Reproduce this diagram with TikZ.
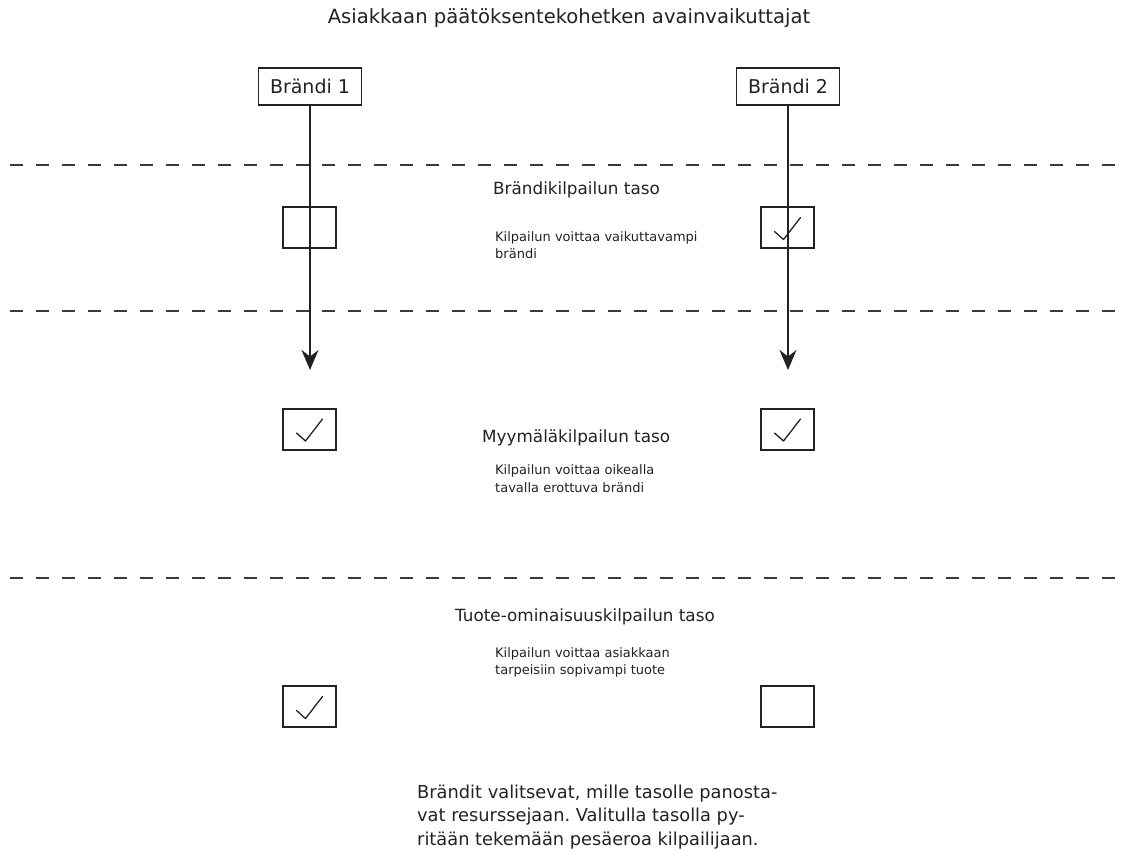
\documentclass[tikz,border=0pt]{standalone}
\usepackage{fontspec}
\setmainfont{DejaVu Sans}
\usetikzlibrary{arrows.meta}
\frenchspacing
\definecolor{ink}{HTML}{222222}
\definecolor{dashc}{HTML}{3A3A3A}
\tikzset{
  brandbox/.style={draw=ink, line width=1.2pt, minimum width=103pt, minimum height=37pt, inner sep=0pt, text=ink, font=\fontsize{19}{22}\selectfont},
  chkbox/.style={draw=ink, line width=2pt, minimum width=53pt, minimum height=41pt, inner sep=0pt},
  chk/.style={draw=ink, line width=1.3pt, line join=round, line cap=round},
  flow/.style={draw=ink, line width=1.8pt, -{Stealth[length=20pt, width=17pt]}},
  level/.style={draw=dashc, line width=2pt, dash pattern=on 13pt off 13pt},
  title/.style={text=ink, inner sep=0pt, font=\fontsize{19.6}{23}\selectfont},
  head/.style={text=ink, inner sep=0pt, anchor=west, font=\fontsize{16.8}{20}\selectfont},
  sub/.style={text=ink, inner sep=0pt, anchor=west, align=left},
  note/.style={text=ink, inner sep=0pt, anchor=west, align=left, font=\fontsize{17.8}{23.5}\selectfont}
}
\begin{document}
\begin{tikzpicture}[x=1pt, y=-1pt]
\useasboundingbox (0,0) rectangle (1131,849);
\node[title] (t) at (569,18) {Asiakkaan päätöksentekohetken avainvaikuttajat};
\node[brandbox] (b1) at (310,86.5) {Brändi 1};
\node[brandbox] (b2) at (788,86.5) {Brändi 2};
% level lines
\coordinate (l1a) at (10,165); \coordinate (l1b) at (1121,165);
\coordinate (l2a) at (10,311); \coordinate (l2b) at (1121,311);
\coordinate (l3a) at (10,578); \coordinate (l3b) at (1121,578);
\draw[level, line width=1.4pt] (l1a) -- (l1b);
\draw[level] (l2a) -- (l2b);
\draw[level] (l3a) -- (l3b);
% check boxes
\node[chkbox] (c11) at (309.5,227.5) {};
\node[chkbox] (c12) at (787.5,227.5) {};
\node[chkbox] (c21) at (309.5,429) {};
\node[chkbox] (c22) at (787.5,429) {};
\node[chkbox] (c31) at (309.5,706.5) {};
\node[chkbox] (c32) at (787.5,706.5) {};
% arrows
\coordinate (a1) at (310,370);
\coordinate (a2) at (788,370);
\draw[flow] (b1.south) -- (a1);
\draw[flow] (b2.south) -- (a2);
% check marks
\foreach \c in {c12,c21,c22,c31}{
  \draw[chk] ([shift={(-13,4)}]\c.center) -- ([shift={(-4,12)}]\c.center) -- ([shift={(13,-10)}]\c.center);
}
% texts
\node[head] (h1) at (493,190) {Brändikilpailun taso};
\node[sub, font=\fontsize{13}{16.5}\selectfont] (s1) at (495,245) {Kilpailun voittaa vaikuttavampi\\brändi};
\node[head] (h2) at (482,438) {Myymäläkilpailun taso};
\node[sub, font=\fontsize{13}{18}\selectfont] (s2) at (495,479) {Kilpailun voittaa oikealla\\tavalla erottuva brändi};
\node[head] (h3) at (455,617) {Tuote-ominaisuuskilpailun taso};
\node[sub, font=\fontsize{13}{17}\selectfont] (s3) at (495,662.5) {Kilpailun voittaa asiakkaan\\tarpeisiin sopivampi tuote};
\node[note] (n) at (417,817) {Brändit valitsevat, mille tasolle panosta-\\vat resurssejaan. Valitulla tasolla py-\\ritään tekemään pesäeroa kilpailijaan.};
\end{tikzpicture}
\end{document}
